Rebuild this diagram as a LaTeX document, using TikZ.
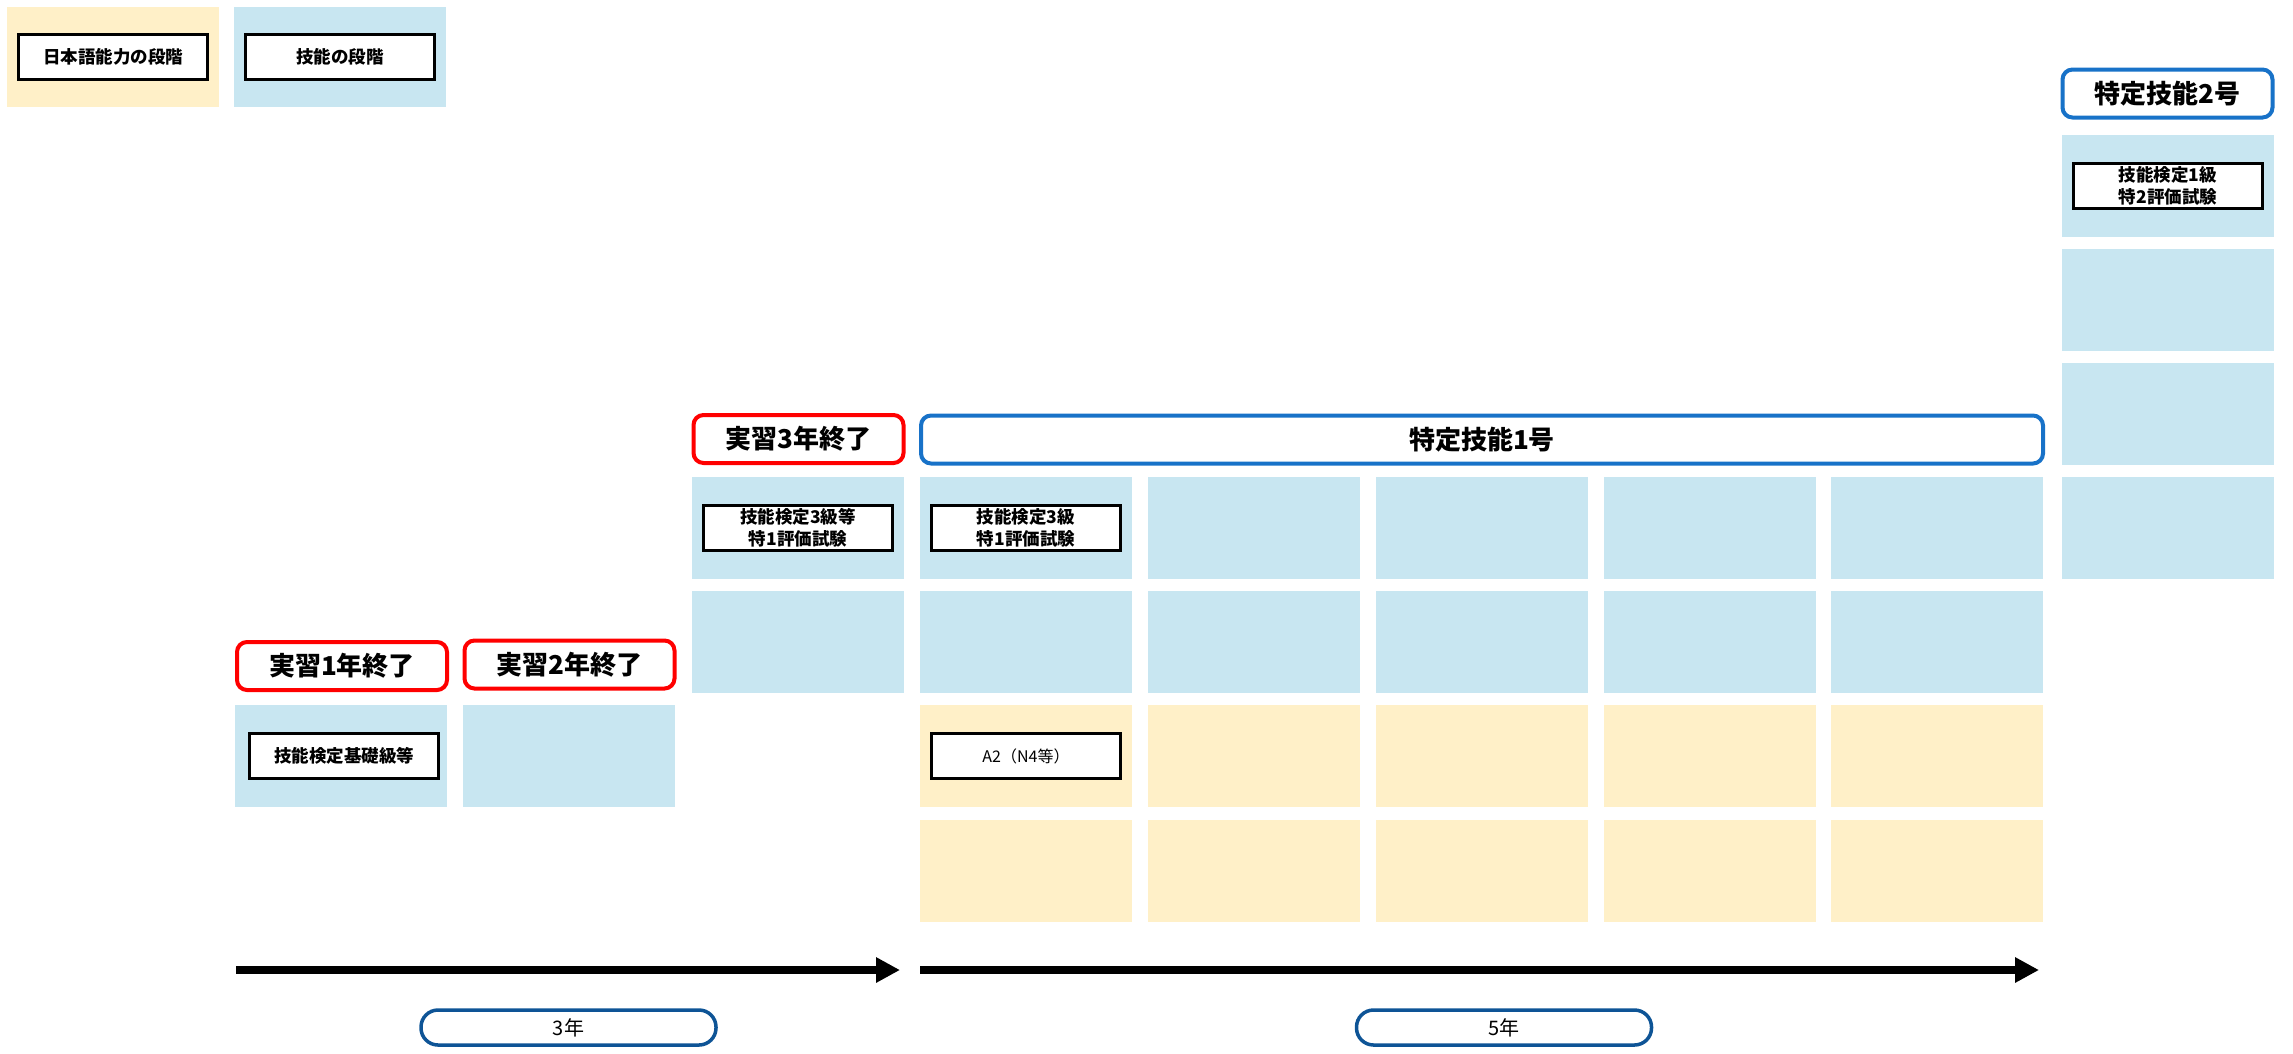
\documentclass[tikz,border=0pt]{standalone}
\usepackage{fontspec}
\setmainfont{Noto Sans CJK JP}
\usetikzlibrary{arrows.meta}
\definecolor{skillblue}{HTML}{C8E6F1}
\definecolor{langyellow}{HTML}{FFF0C8}
\definecolor{stagered}{HTML}{FF0000}
\definecolor{spblue}{HTML}{1872C8}
\definecolor{yearblue}{HTML}{0E5496}
\begin{document}
\begin{tikzpicture}[%
        x=1pt, y=-1pt,
        cell/.style={shape=rectangle, anchor=north west, inner sep=0pt, outer sep=0pt,
            minimum width=212pt, minimum height=102pt},
        skillcell/.style={cell, fill=skillblue},
        langcell/.style={cell, fill=langyellow},
        testbox/.style={shape=rectangle, draw=black, line width=3pt, fill=white,
            minimum width=189pt, minimum height=45pt, inner sep=0pt, align=center,
            font=\bfseries\fontsize{17.5}{22}\selectfont},
        stagebox/.style={shape=rectangle, draw=stagered, line width=4pt, fill=white,
            rounded corners=10pt, minimum width=210pt, minimum height=48pt, inner sep=0pt,
            font=\bfseries\fontsize{26}{30}\selectfont},
        tokuteibox/.style={stagebox, draw=spblue},
        yearbox/.style={shape=rectangle, draw=yearblue, line width=3.5pt, fill=white,
            rounded corners=17pt, minimum width=295pt, minimum height=35pt, inner sep=0pt,
            font=\fontsize{20}{24}\selectfont},
        timeline/.style={line width=8pt, -{Triangle[length=24pt, width=24pt]}}
    ]
    \useasboundingbox (0,0) rectangle (2293,1053);

    % legend
    \node [langcell, minimum height=100pt] (langkey) at (7,7) {};
    \node [skillcell, minimum height=100pt] (skillkey) at (234,7) {};
    \node [testbox] (langkeylbl) at (langkey.center) {日本語能力の段階};
    \node [testbox] (skillkeylbl) at (skillkey.center) {技能の段階};

    % technical intern training
    \node [skillcell] (jisshu1) at (235,705) {};
    \node [skillcell] (jisshu2) at (463,705) {};
    \node [skillcell] (jisshu3-a) at (692,477) {};
    \node [skillcell] (jisshu3-b) at (692,591) {};
    \node [testbox] (jisshu1test) at ([xshift=3pt]jisshu1.center) {技能検定基礎級等};
    \node [testbox] (jisshu3test) at (jisshu3-a.center) {技能検定3級等\\特1評価試験};

    \node [stagebox] (stage1) at (342,666) {実習1年終了};
    \node [stagebox] (stage2) at (569.5,664.5) {実習2年終了};
    \node [stagebox] (stage3) at (798.5,439) {実習3年終了};

    % specified skilled worker (i)
    \foreach \x [count=\i] in {920,1148,1376,1604,1831} {
        \node [skillcell] (tok\i-a) at (\x,477) {};
        \node [skillcell] (tok\i-b) at (\x,591) {};
        \node [langcell] (tok\i-c) at (\x,705) {};
        \node [langcell] (tok\i-d) at (\x,820) {};
    }
    \node [testbox] (tok1test) at (tok1-a.center) {技能検定3級\\特1評価試験};
    \node [testbox, font=\fontsize{16}{20}\selectfont] (tok1lang) at (tok1-c.center) {A2（N4等）};
    \node [tokuteibox, minimum width=1122pt] (tok1head) at (1482,439.5) {特定技能1号};

    % specified skilled worker (ii)
    \foreach \y [count=\i] in {135,249,363,477}
        \node [skillcell] (tok2-\i) at (2062,\y) {};
    \node [testbox] (tok2test) at (tok2-1.center) {技能検定1級\\特2評価試験};
    \node [tokuteibox] (tok2head) at (2167.5,93.5) {特定技能2号};

    % years
    \coordinate (jisshu-start) at (236,970);
    \coordinate (jisshu-end) at (900,970);
    \coordinate (tok-start) at (920,970);
    \coordinate (tok-end) at (2039,970);
    \draw [timeline] (jisshu-start) -- (jisshu-end);
    \draw [timeline] (tok-start) -- (tok-end);
    \node [yearbox] (year3) at (568.5,1027.5) {3年};
    \node [yearbox] (year5) at (1504,1027.5) {5年};
\end{tikzpicture}
\end{document}
